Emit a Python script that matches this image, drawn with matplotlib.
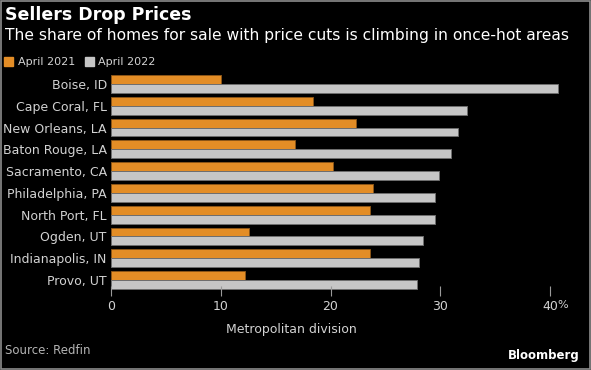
import matplotlib
matplotlib.use("Agg")
import matplotlib.pyplot as plt
from matplotlib.patches import Rectangle, Patch
import numpy as np

cities = ["Boise, ID", "Cape Coral, FL", "New Orleans, LA", "Baton Rouge, LA",
          "Sacramento, CA", "Philadelphia, PA", "North Port, FL", "Ogden, UT",
          "Indianapolis, IN", "Provo, UT"]
apr_2021 = [10.0, 18.4, 22.3, 16.8, 20.2, 23.9, 23.6, 12.6, 23.6, 12.2]
apr_2022 = [40.7, 32.4, 31.6, 31.0, 29.9, 29.5, 29.5, 28.4, 28.1, 27.9]
ticks = [0, 10, 20, 30, 40]

ORANGE = "#e38d26"
GREY = "#c6c6c6"
BG = "#000000"
TXT = "#d2d2d2"

fig = plt.figure(figsize=(5.91, 3.70), dpi=100, facecolor=BG)
ax = fig.add_axes([0.1878, 0.2138, 0.780, 0.5886], facecolor=BG)

y = np.arange(len(cities))
h = 0.41
ax.barh(y - h / 2, apr_2021, height=h, color=ORANGE, edgecolor="#8a5518", linewidth=0.7)
ax.barh(y + h / 2, apr_2022, height=h, color=GREY, edgecolor="#6e6e6e", linewidth=0.7)

ax.set_ylim(len(cities) - 0.5, -0.5)
ax.set_xlim(0, 42)
ax.set_yticks(y)
ax.set_yticklabels(cities, color=TXT, fontsize=9)
ax.set_xticks(ticks)
ax.set_xticklabels([str(t) for t in ticks], color=TXT, fontsize=9)
ax.tick_params(axis="y", length=0, pad=3)
ax.tick_params(axis="x", direction="inout", length=7, width=0.8, color="#9a9a9a", pad=3)
ax.annotate("%", xy=(40, 0), xycoords=("data", "axes fraction"),
            xytext=(5, -6.8), textcoords="offset points",
            color=TXT, fontsize=8, va="top", ha="left")
for s in ax.spines.values():
    s.set_visible(False)

fig.text(0.009, 0.96, "Sellers Drop Prices", color="white", fontsize=12.5,
         fontweight="bold", va="center", ha="left")
fig.text(0.009, 0.905, "The share of homes for sale with price cuts is climbing in once-hot areas",
         color="white", fontsize=11.2, va="center", ha="left")

handles = [Patch(facecolor=ORANGE, edgecolor=ORANGE, label="April 2021"),
           Patch(facecolor=GREY, edgecolor=GREY, label="April 2022")]
fig.legend(handles=handles, loc="center left", bbox_to_anchor=(0.0, 0.832), ncol=2,
           frameon=False, fontsize=8, labelcolor=TXT, handlelength=0.8,
           handleheight=0.8, handletextpad=0.4, columnspacing=0.9, borderaxespad=0)

fig.text(291 / 591, 1 - 329 / 370, "Metropolitan division", color=TXT, fontsize=9,
         ha="center", va="center")
fig.text(0.008, 1 - 351 / 370, "Source: Redfin", color="#b4b4b4", fontsize=8.5,
         ha="left", va="center")
fig.text(580 / 591, 1 - 355 / 370, "Bloomberg", color="white", fontsize=8.5,
         fontweight="bold", ha="right", va="center")

fig.patches.append(Rectangle((0.001, 0.002), 0.997, 0.996, transform=fig.transFigure,
                             fill=False, edgecolor="#8c8c8c", linewidth=1.2))

fig.savefig("out.png", dpi=100, facecolor=BG)
